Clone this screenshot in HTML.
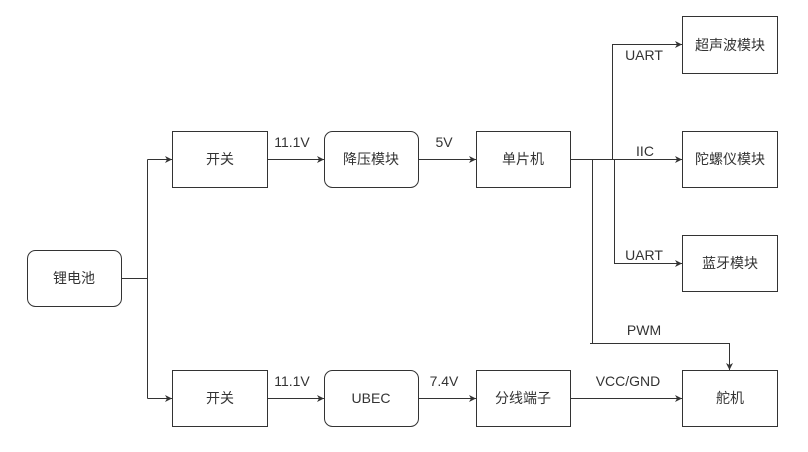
<!DOCTYPE html>
<html><head><meta charset="utf-8"><style>
body{margin:0;background:#fff;}
svg text{font-family:"Liberation Sans","Noto Sans CJK SC",sans-serif;font-size:14px;fill:#333;}
</style></head><body>
<svg width="808" height="447" viewBox="0 0 808 447" xmlns="http://www.w3.org/2000/svg">
<defs><marker id="a" markerWidth="8" markerHeight="8" refX="7" refY="4" orient="auto" markerUnits="userSpaceOnUse"><path d="M0,0.5 L7,4 L0,7.5 L2,4 Z" fill="#333"/></marker></defs>
<g fill="#fff" stroke="#333" stroke-width="1">
<rect x="27.5" y="250.5" width="94" height="56" rx="8"/>
<rect x="172.5" y="131.5" width="95" height="56"/>
<rect x="324.5" y="131.5" width="94" height="56" rx="8"/>
<rect x="476.5" y="131.5" width="94" height="56"/>
<rect x="172.5" y="370.5" width="95" height="56"/>
<rect x="324.5" y="370.5" width="94" height="56" rx="8"/>
<rect x="476.5" y="370.5" width="94" height="56"/>
<rect x="682.5" y="16.5" width="95" height="57"/>
<rect x="682.5" y="131.5" width="95" height="56"/>
<rect x="682.5" y="235.5" width="95" height="56"/>
<rect x="682.5" y="370.5" width="95" height="56"/>
</g>
<g fill="none" stroke="#333" stroke-width="1">
<path d="M121.5,278.5 H147.5"/>
<path d="M147.5,159.5 V398.5"/>
<path d="M147.5,159.5 H172" marker-end="url(#a)"/>
<path d="M147.5,398.5 H172" marker-end="url(#a)"/>
<path d="M267.5,159.5 H324" marker-end="url(#a)"/>
<path d="M267.5,398.5 H324" marker-end="url(#a)"/>
<path d="M418.5,159.5 H476" marker-end="url(#a)"/>
<path d="M418.5,398.5 H476" marker-end="url(#a)"/>
<path d="M570.5,398.5 H682" marker-end="url(#a)"/>
<path d="M570.5,159.5 H682" marker-end="url(#a)"/>
<path d="M612.5,159.5 V44.5 H682" marker-end="url(#a)"/>
<path d="M614.5,159.5 V263.5 H682" marker-end="url(#a)"/>
<path d="M592.5,159.5 V343.5"/>
<path d="M590,343.5 H729.5 V370" marker-end="url(#a)"/>
</g>
<g text-anchor="middle">
<text x="74" y="283">锂电池</text>
<text x="220" y="164">开关</text>
<text x="371" y="164">降压模块</text>
<text x="523" y="164">单片机</text>
<text x="220" y="403">开关</text>
<text x="371" y="403">UBEC</text>
<text x="523" y="403">分线端子</text>
<text x="730" y="50">超声波模块</text>
<text x="730" y="164">陀螺仪模块</text>
<text x="730" y="268">蓝牙模块</text>
<text x="730" y="403">舵机</text>
<text x="292" y="147">11.1V</text>
<text x="444" y="147">5V</text>
<text x="292" y="386">11.1V</text>
<text x="444" y="386">7.4V</text>
<text x="644" y="60">UART</text>
<text x="645" y="156">IIC</text>
<text x="644" y="260">UART</text>
<text x="644" y="335">PWM</text>
<text x="628" y="386">VCC/GND</text>
</g>
</svg>
</body></html>
